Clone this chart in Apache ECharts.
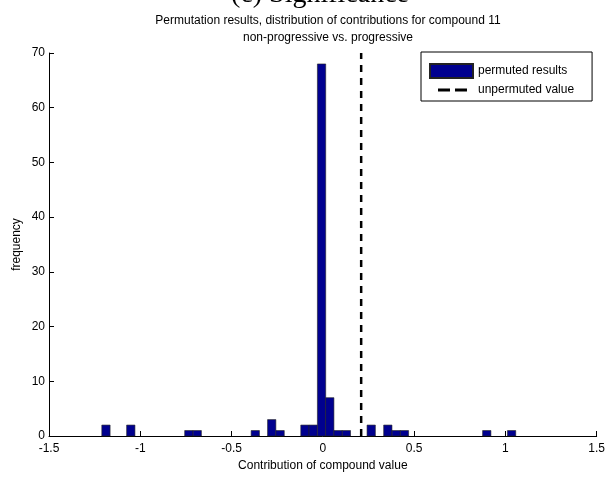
<!DOCTYPE html>
<html>
<head>
<meta charset="utf-8">
<script src="https://cdn.jsdelivr.net/npm/echarts@6/dist/echarts.min.js"></script>
<style>html,body{margin:0;padding:0;background:#fff}#c{width:608px;height:477px}</style>
</head>
<body>
<div id="c"></div>
<script>
// ---- data ----
const binCenters = [-1.188, -1.052, -0.734, -0.688, -0.370, -0.280, -0.234, -0.098, -0.053, -0.007, 0.038, 0.084, 0.129, 0.265, 0.356, 0.402, 0.447, 0.898, 1.034];
const binCounts  = [2, 2, 1, 1, 1, 3, 1, 2, 2, 68, 7, 1, 1, 2, 2, 1, 1, 1, 1];
const binWidth = 0.0454;
const unpermutedValue = 0.21;
const xTicks = [-1.5, 1.5, 0.5];   // min, max, step
const yTicks = [0, 70, 10];
const titleLines = ['Permutation results, distribution of contributions for compound 11', 'non-progressive vs. progressive'];
const headingText = '(c) Significance';
const xLabel = 'Contribution of compound value';
const yLabel = 'frequency';
const seriesNames = ['permuted results', 'unpermuted value'];

const font = '"Liberation Sans", Arial, sans-serif';
const chart = echarts.init(document.getElementById('c'), null, {renderer: 'canvas'});

const histData = binCenters.map((c, i) => [c, binCounts[i]]);
// legend glyph: two short dashes centred in the 43x14 icon box
const dashIcon = 'path://M0,0h0.01v0.01h-0.01z M43,14h0.01v0.01h-0.01z M8,5.6h12v2.9h-12z M25,5.6h12v2.9h-12z';

chart.setOption({
  animation: false,
  backgroundColor: '#fff',
  title: [
    {text: titleLines.join('\n'), left: 323, top: 7, textAlign: 'center',
     textStyle: {fontFamily: font, fontSize: 12, fontWeight: 'normal', color: '#000', lineHeight: 17}},
    {text: headingText, left: 315, top: -24, textAlign: 'center',
     textStyle: {fontFamily: '"Liberation Serif", "Times New Roman", serif', fontSize: 28, fontWeight: 'normal', color: '#000'}}
  ],
  grid: {left: 49, right: 9, top: 53, bottom: 38, containLabel: false},
  legend: {
    orient: 'vertical', left: 421, top: 52,
    padding: [11, 18, 4, 8], itemGap: 4, itemWidth: 43, itemHeight: 14,
    borderColor: '#000', borderWidth: 1, backgroundColor: '#fff',
    textStyle: {fontFamily: font, fontSize: 12, color: '#000'},
    data: [
      {name: seriesNames[0], icon: 'rect'},
      {name: seriesNames[1], icon: dashIcon}
    ]
  },
  xAxis: {
    type: 'value', min: xTicks[0], max: xTicks[1], interval: xTicks[2],
    name: xLabel, nameLocation: 'middle', nameGap: 30, nameMoveOverlap: false,
    nameTextStyle: {fontFamily: font, fontSize: 12, color: '#000', verticalAlign: 'middle'},
    axisLine: {onZero: false, lineStyle: {color: '#000', width: 1}},
    axisTick: {inside: true, length: 5, lineStyle: {color: '#000'}},
    axisLabel: {fontFamily: font, fontSize: 12, color: '#000', margin: 7,
      formatter: v => String(Math.round(v * 10) / 10)},
    splitLine: {show: false}
  },
  yAxis: {
    type: 'value', min: yTicks[0], max: yTicks[1], interval: yTicks[2],
    name: yLabel, nameLocation: 'middle', nameGap: 32, nameRotate: 90, nameMoveOverlap: false,
    nameTextStyle: {fontFamily: font, fontSize: 12, color: '#000', verticalAlign: 'middle'},
    axisLine: {show: true, onZero: false, lineStyle: {color: '#000', width: 1}},
    axisTick: {show: true, inside: true, length: 5, lineStyle: {color: '#000'}},
    axisLabel: {fontFamily: font, fontSize: 12, color: '#000', margin: 4},
    splitLine: {show: false}
  },
  series: [
    {
      name: seriesNames[0], type: 'custom',
      itemStyle: {color: '#00008F', borderColor: '#222', borderWidth: 0.6},
      encode: {x: 0, y: 1},
      data: histData,
      renderItem: function (params, api) {
        const c = api.value(0), n = api.value(1);
        const p0 = api.coord([c - binWidth / 2, n]);
        const p1 = api.coord([c + binWidth / 2, 0]);
        return {type: 'rect', shape: {x: p0[0], y: p0[1], width: p1[0] - p0[0], height: p1[1] - p0[1]},
          style: {fill: '#00008F', stroke: '#222', lineWidth: 0.6}};
      }
    },
    {
      name: seriesNames[1], type: 'line', symbol: 'none',
      lineStyle: {color: '#000', width: 2.5, type: [7, 6]},
      itemStyle: {color: '#000'},
      data: [[unpermutedValue, yTicks[0]], [unpermutedValue, yTicks[1]]],
      z: 5
    }
  ]
});
</script>
</body>
</html>
